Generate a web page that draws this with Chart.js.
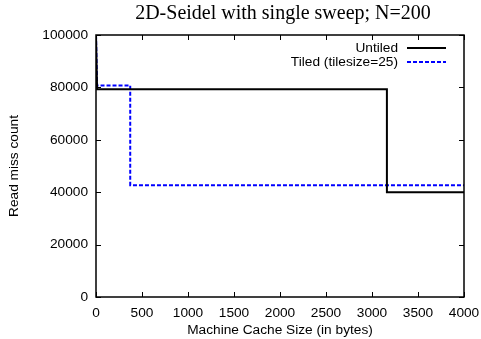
<!DOCTYPE html>
<html>
<head>
<meta charset="utf-8">
<script src="https://cdn.jsdelivr.net/npm/chart.js@4"></script>
<style>
  html, body { margin: 0; padding: 0; background: #fff; }
  #wrap { width: 481px; height: 339px; }
</style>
</head>
<body>
<div id="wrap"><canvas id="chart" width="481" height="339"></canvas></div>
<script>
// Data
const chartTitle = '2D-Seidel with single sweep; N=200';
const seriesNames = ['Untiled', 'Tiled (tilesize=25)'];
const untiledX = [0, 12, 3162, 3162, 4000];
const untiledY = [100000, 79300, 79300, 40000, 40000];
const tiledX = [0, 12, 372, 372, 4000];
const tiledY = [100000, 80700, 80700, 42700, 42700];
const xTicks = [0, 500, 1000, 1500, 2000, 2500, 3000, 3500, 4000];
const yTicks = [0, 20000, 40000, 60000, 80000, 100000];

function toPoints(xs, ys) {
    return xs.map((v, i) => ({ x: v, y: ys[i] }));
}

// Frame, inward ticks, title and legend drawn gnuplot-style
const gnuplotLook = {
    id: 'gnuplotLook',
    afterDraw(chart) {
        const ctx = chart.ctx;
        const a = chart.chartArea;
        const xs = chart.scales.x;
        const ys = chart.scales.y;
        ctx.save();
        ctx.strokeStyle = '#000';
        ctx.lineWidth = 1.5;
        ctx.strokeRect(a.left, a.top, a.right - a.left, a.bottom - a.top);
        ctx.lineWidth = 1;
        xTicks.forEach(v => {
            const px = Math.round(xs.getPixelForValue(v)) + 0.5;
            ctx.beginPath();
            ctx.moveTo(px, a.bottom); ctx.lineTo(px, a.bottom - 5);
            ctx.moveTo(px, a.top); ctx.lineTo(px, a.top + 5);
            ctx.stroke();
        });
        yTicks.forEach(v => {
            const py = Math.round(ys.getPixelForValue(v)) + 0.5;
            ctx.beginPath();
            ctx.moveTo(a.left, py); ctx.lineTo(a.left + 5, py);
            ctx.moveTo(a.right, py); ctx.lineTo(a.right - 5, py);
            ctx.stroke();
        });

        // title
        ctx.fillStyle = '#000';
        ctx.font = '20px "Liberation Serif"';
        ctx.textAlign = 'center';
        ctx.textBaseline = 'middle';
        ctx.fillText(chartTitle, (a.left + a.right) / 2 + 3, 14);

        // legend
        ctx.font = '13.7px "Liberation Sans"';
        ctx.textAlign = 'right';
        const rows = [
            { y: 48, color: '#000', dash: [], width: 2 },
            { y: 62, color: '#0000ff', dash: [4, 2], width: 2 }
        ];
        rows.forEach((r, i) => {
            ctx.fillStyle = '#000';
            ctx.fillText(seriesNames[i], 398, r.y);
            ctx.strokeStyle = r.color;
            ctx.lineWidth = r.width;
            ctx.setLineDash(r.dash);
            ctx.beginPath();
            ctx.moveTo(407, r.y); ctx.lineTo(446, r.y);
            ctx.stroke();
        });
        ctx.restore();
    }
};

const tickFont = { family: 'Liberation Sans', size: 13.7 };

new Chart(document.getElementById('chart').getContext('2d'), {
    type: 'scatter',
    data: {
        datasets: [
            {
                label: seriesNames[0],
                data: toPoints(untiledX, untiledY),
                showLine: true,
                borderColor: '#000',
                borderWidth: 2,
                pointRadius: 0,
                tension: 0
            },
            {
                label: seriesNames[1],
                data: toPoints(tiledX, tiledY),
                showLine: true,
                borderColor: '#0000ff',
                borderWidth: 2,
                borderDash: [4, 2],
                pointRadius: 0,
                tension: 0
            }
        ]
    },
    options: {
        responsive: false,
        animation: false,
        layout: { padding: { top: 35, right: 17, left: 0, bottom: 0 } },
        plugins: {
            legend: { display: false },
            tooltip: { enabled: false }
        },
        scales: {
            x: {
                type: 'linear',
                min: 0,
                max: 4000,
                afterBuildTicks: s => { s.ticks = xTicks.map(v => ({ value: v })); },
                ticks: { color: '#000', font: tickFont, padding: 0, maxRotation: 0, callback: v => String(v) },
                grid: { display: false },
                border: { display: false },
                title: {
                    display: true,
                    text: 'Machine Cache Size (in bytes)',
                    color: '#000',
                    font: tickFont,
                    padding: { top: 0, bottom: 1 }
                },
                afterFit: s => { s.height = 42; }
            },
            y: {
                type: 'linear',
                min: 0,
                max: 100000,
                afterBuildTicks: s => { s.ticks = yTicks.map(v => ({ value: v })); },
                ticks: { color: '#000', font: tickFont, padding: 0, callback: v => String(v) },
                grid: { display: false },
                border: { display: false },
                title: {
                    display: true,
                    text: 'Read miss count',
                    color: '#000',
                    font: tickFont,
                    padding: { top: 6, bottom: 0 }
                },
                afterFit: s => { s.width = 96; }
            }
        }
    },
    plugins: [gnuplotLook]
});
</script>
</body>
</html>
